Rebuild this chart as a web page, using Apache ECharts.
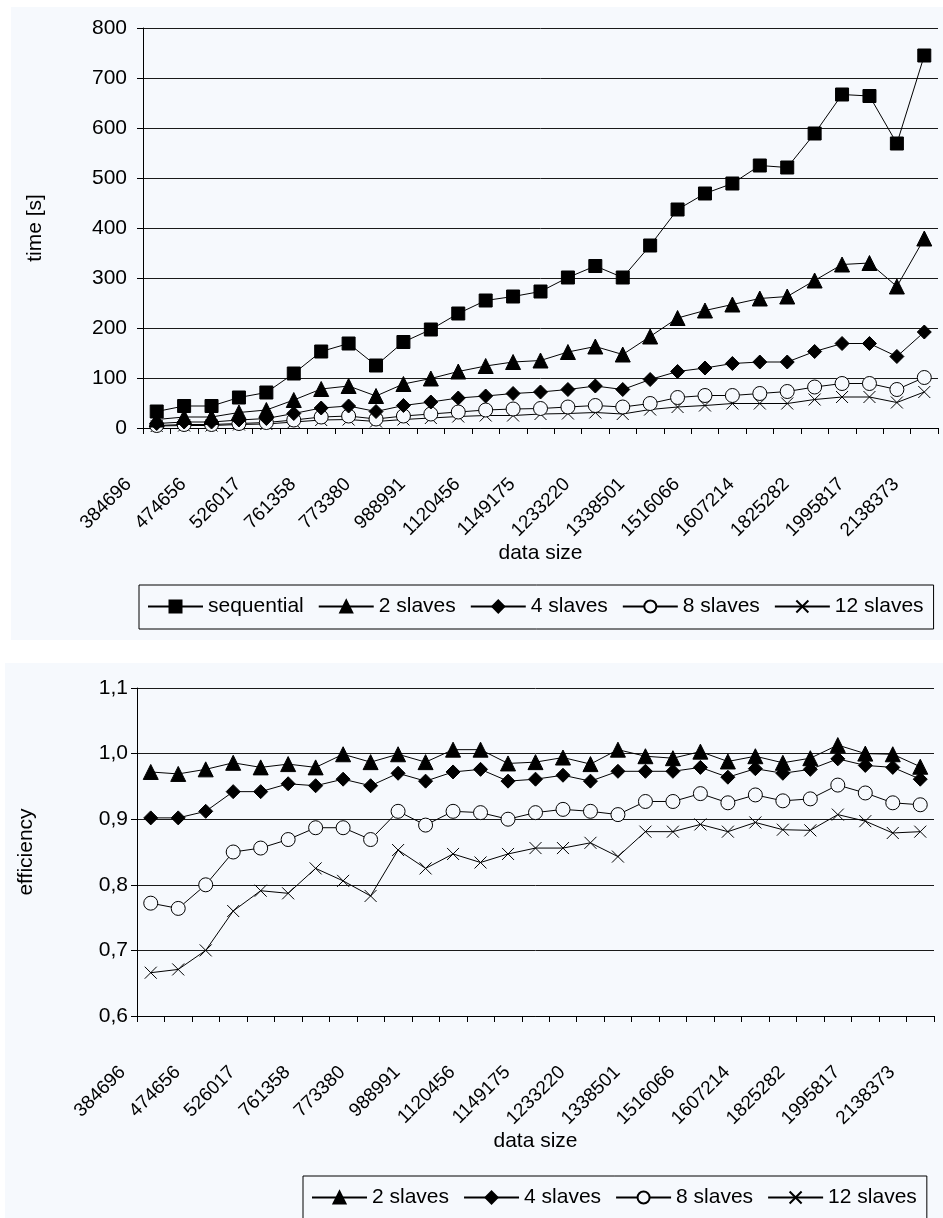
<!DOCTYPE html>
<html>
<head>
<meta charset="utf-8">
<script src="https://cdn.jsdelivr.net/npm/echarts@6/dist/echarts.min.js"></script>
<style>
  html, body { margin: 0; padding: 0; background: #fff; }
  body { position: relative; width: 943px; height: 1218px; overflow: hidden; }
  .panel { position: absolute; background: #f6f9fd; }
  #timeChart { left: 11px; top: 7px; width: 932px; height: 633px; }
  #effChart { left: 5px; top: 663px; width: 938px; height: 555px; }
</style>
</head>
<body>
<div id="timeChart" class="panel"></div>
<div id="effChart" class="panel"></div>
<script>
// data sizes shown under the axis (every second category is labelled)
const sizeLabels = ['384696', '474656', '526017', '761358', '773380', '988991', '1120456',
  '1149175', '1233220', '1338501', '1516066', '1607214', '1825282', '1995817', '2138373']

// runtime [s]
const seqTime = [33, 44, 44, 61, 71, 109, 153, 169, 125, 172, 197, 229, 255, 263, 273, 301,
  324, 301, 365, 437, 469, 489, 525, 521, 589, 667, 664, 569, 745]
const slaves2Time = [17, 22, 22, 31, 36, 56, 78, 84, 64, 88, 99, 113, 124, 132, 135, 152,
  163, 147, 183, 220, 235, 247, 259, 263, 295, 327, 330, 283, 379]
const slaves4Time = [9, 12, 12, 16, 19, 29, 40, 44, 33, 45, 52, 60, 64, 69, 72, 77,
  84, 77, 97, 113, 120, 129, 132, 132, 153, 169, 169, 143, 192]
const slaves8Time = [5, 7, 7, 9, 11, 16, 22, 24, 18, 24, 28, 32, 36, 38, 39, 42,
  45, 42, 49, 61, 65, 65, 69, 73, 82, 89, 89, 77, 101]
const slaves12Time = [4, 5, 5, 7, 8, 12, 16, 17, 13, 17, 20, 23, 25, 25, 28, 29,
  31, 28, 37, 42, 45, 49, 49, 49, 57, 62, 62, 51, 72]

// efficiency
const slaves2Eff = [0.972, 0.969, 0.976, 0.986, 0.979, 0.984, 0.979, 0.999, 0.987, 0.999, 0.987,
  1.006, 1.006, 0.985, 0.987, 0.994, 0.984, 1.006, 0.996, 0.993, 1.003, 0.988, 0.996, 0.986,
  0.993, 1.013, 1.000, 0.999, 0.980]
const slaves4Eff = [0.902, 0.902, 0.912, 0.942, 0.942, 0.954, 0.951, 0.961, 0.951, 0.970, 0.958,
  0.972, 0.976, 0.958, 0.961, 0.967, 0.958, 0.973, 0.973, 0.973, 0.979, 0.964, 0.977, 0.970,
  0.976, 0.992, 0.982, 0.979, 0.961]
const slaves8Eff = [0.772, 0.764, 0.800, 0.850, 0.856, 0.869, 0.887, 0.887, 0.869, 0.912, 0.891,
  0.912, 0.910, 0.900, 0.910, 0.915, 0.912, 0.907, 0.927, 0.927, 0.939, 0.925, 0.937, 0.928,
  0.931, 0.952, 0.940, 0.925, 0.922]
const slaves12Eff = [0.666, 0.671, 0.700, 0.760, 0.791, 0.787, 0.825, 0.806, 0.783, 0.853, 0.825,
  0.847, 0.834, 0.847, 0.856, 0.856, 0.864, 0.843, 0.881, 0.881, 0.892, 0.881, 0.895, 0.884,
  0.883, 0.907, 0.897, 0.879, 0.881]

const timeTicks = [0, 800, 100]
const effTicks = [0.6, 1.1, 0.1]

// 29 categories, labels on the even ones
const categories = []
sizeLabels.forEach((label, i) => {
  categories.push(label)
  if (i < sizeLabels.length - 1) categories.push('')
})

const FONT = 'Liberation Sans, Arial, sans-serif'
const BG = '#f6f9fd'
const text = { color: '#000', fontFamily: FONT, fontSize: 21 }

const markers = {
  sequential: { symbol: 'rect', symbolSize: 13, fill: '#000' },
  '2 slaves': { symbol: 'triangle', symbolSize: 15, fill: '#000' },
  '4 slaves': { symbol: 'diamond', symbolSize: 14, fill: '#000' },
  '8 slaves': { symbol: 'circle', symbolSize: 14, fill: BG },
  '12 slaves': { symbol: 'path://M0,0L10,10M0,10L10,0', symbolSize: 12, fill: 'none' },
}

function makeSeries(name, data) {
  const m = markers[name]
  return {
    name,
    type: 'line',
    data,
    symbol: m.symbol,
    symbolSize: m.symbolSize,
    showAllSymbol: true,
    lineStyle: { color: '#000', width: 1 },
    itemStyle: { color: m.fill, borderColor: '#000', borderWidth: 1 },
    emphasis: { disabled: true },
  }
}

function xAxisFor() {
  return {
    type: 'category',
    data: categories,
    boundaryGap: true,
    name: 'data size',
    nameLocation: 'middle',
    nameGap: 115,
    nameMoveOverlap: false,
    nameTextStyle: text,
    axisLine: { lineStyle: { color: '#000', width: 1 } },
    axisTick: { show: true, interval: 0, length: 6, lineStyle: { color: '#000' } },
    axisLabel: { ...text, fontSize: 19, interval: 0, rotate: 45, margin: 25, padding: [0, 40, 0, 0] },
    splitLine: { show: false },
  }
}

function yAxisFor(name, ticks, gap, margin, fmt) {
  return {
    type: 'value',
    min: ticks[0],
    max: ticks[1],
    interval: ticks[2],
    name,
    nameLocation: 'middle',
    nameGap: gap,
    nameMoveOverlap: false,
    nameTextStyle: text,
    axisLine: { show: true, lineStyle: { color: '#000', width: 1 } },
    axisTick: { show: true, length: 6, lineStyle: { color: '#000' } },
    axisLabel: { ...text, margin, formatter: fmt },
    splitLine: { show: true, lineStyle: { color: '#1a1a1a', width: 1 } },
  }
}

function legendFor(names, left, top) {
  return {
    data: names,
    left,
    top,
    orient: 'horizontal',
    itemWidth: 55,
    itemHeight: 15,
    itemGap: 14,
    padding: [11, 10, 12, 8],
    borderColor: '#000',
    borderWidth: 1,
    backgroundColor: BG,
    textStyle: text,
    selectedMode: false,
  }
}

const timeChart = echarts.init(document.getElementById('timeChart'), null, { renderer: 'canvas' })
timeChart.setOption({
  animation: false,
  backgroundColor: BG,
  grid: { left: 132, top: 21, right: 5, bottom: 212 },
  xAxis: xAxisFor(),
  yAxis: yAxisFor('time [s]', timeTicks, 97, 16, v => String(v)),
  legend: legendFor(['sequential', '2 slaves', '4 slaves', '8 slaves', '12 slaves'], 128, 578),
  series: [
    makeSeries('12 slaves', slaves12Time),
    makeSeries('8 slaves', slaves8Time),
    makeSeries('4 slaves', slaves4Time),
    makeSeries('2 slaves', slaves2Time),
    makeSeries('sequential', seqTime),
  ],
})

const effChart = echarts.init(document.getElementById('effChart'), null, { renderer: 'canvas' })
effChart.setOption({
  animation: false,
  backgroundColor: BG,
  grid: { left: 132, top: 25, right: 9, bottom: 202 },
  xAxis: xAxisFor(),
  yAxis: yAxisFor('efficiency', effTicks, 100, 9, v => v.toFixed(1).replace('.', ',')),
  legend: legendFor(['2 slaves', '4 slaves', '8 slaves', '12 slaves'], 298, 513),
  series: [
    makeSeries('12 slaves', slaves12Eff),
    makeSeries('8 slaves', slaves8Eff),
    makeSeries('4 slaves', slaves4Eff),
    makeSeries('2 slaves', slaves2Eff),
  ],
})
</script>
</body>
</html>
